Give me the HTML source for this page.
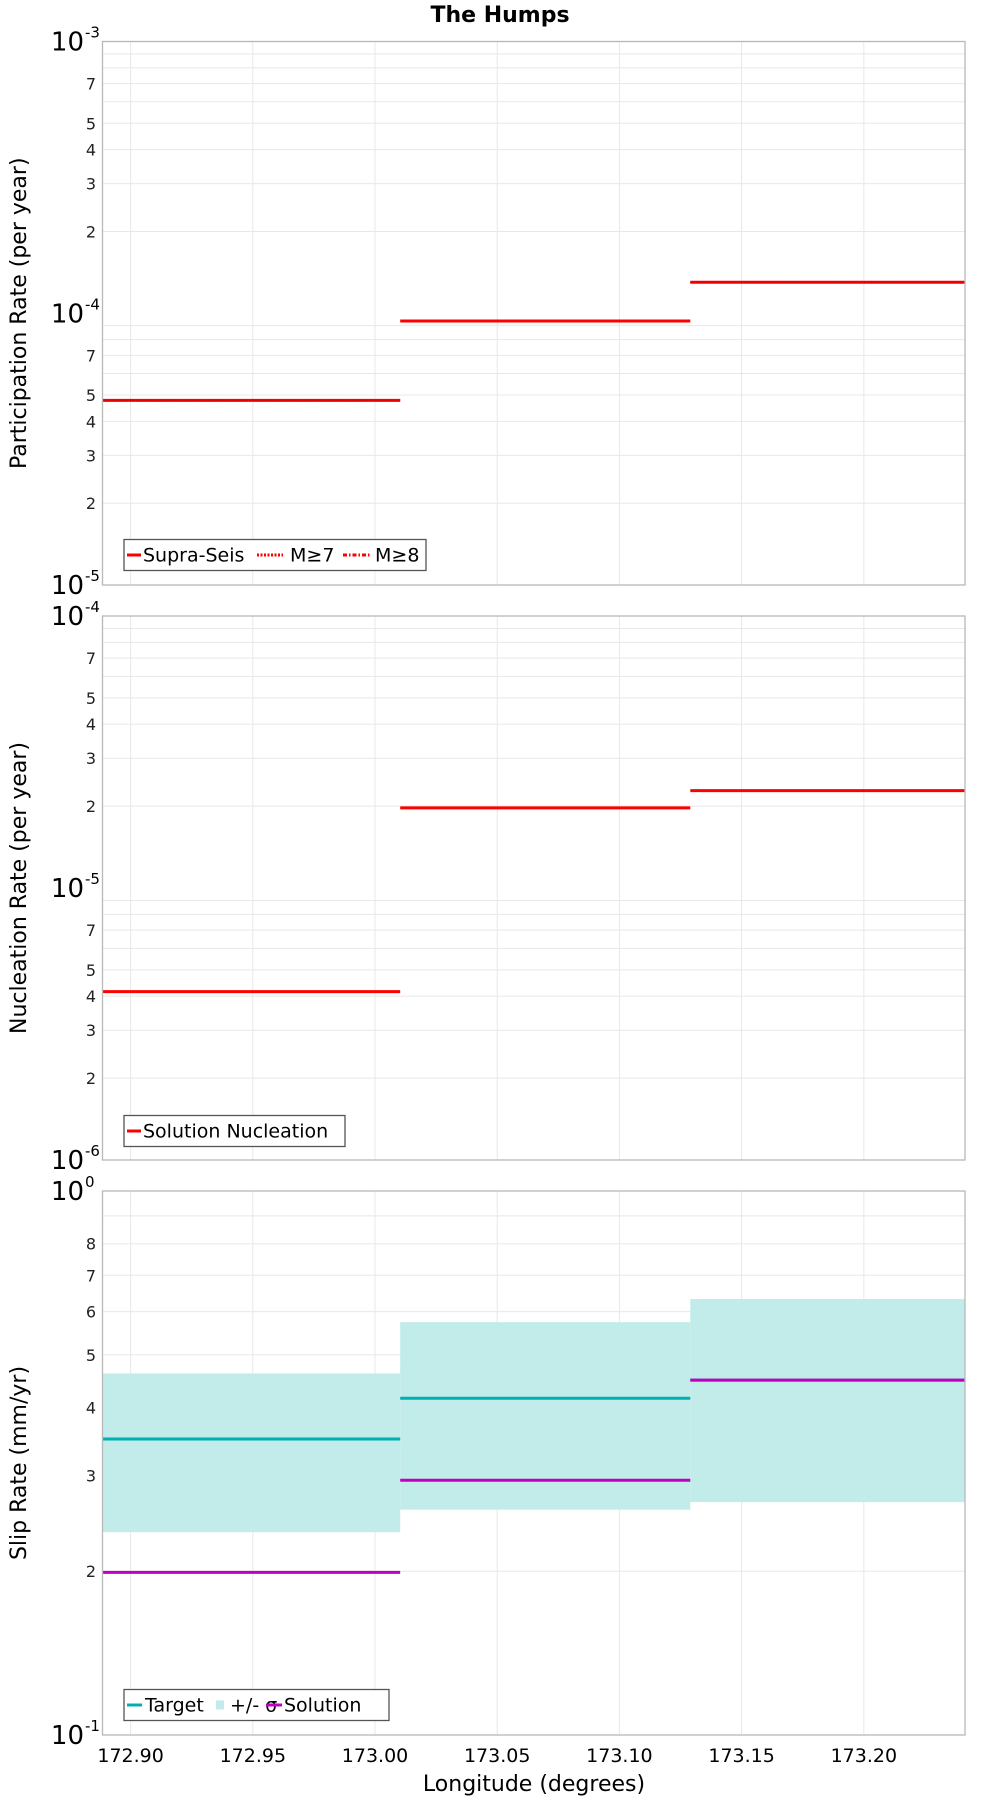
<!DOCTYPE html>
<html><head><meta charset="utf-8"><style>
html,body{margin:0;padding:0;background:#fff;}
svg{display:block;font-family:"DejaVu Sans","Liberation Sans",sans-serif;}
</style></head><body>
<svg id="chart" width="1000" height="1800" viewBox="0 0 1000 1800" xmlns="http://www.w3.org/2000/svg">
<text x="500" y="22" text-anchor="middle" font-size="22" font-weight="bold">The Humps</text>
<text x="534" y="1791" text-anchor="middle" font-size="22">Longitude (degrees)</text>
</svg>
<script>
// data
const segStarts = [172.8885, 173.0103, 173.129];
const segEnds = [173.0103, 173.129, 173.2414];
const participation = [4.78e-5, 9.36e-5, 1.30e-4];
const nucleation = [4.16e-6, 1.97e-5, 2.28e-5];
const slipTarget = [0.350, 0.416, 0.449];
const slipSolution = [0.199, 0.294, 0.449];
const slipUpper = [0.462, 0.574, 0.633];
const slipLower = [0.236, 0.2595, 0.268];
const xTicks = [172.90, 172.95, 173.00, 173.05, 173.10, 173.15, 173.20];
const xTickLabels = ["172.90","172.95","173.00","173.05","173.10","173.15","173.20"];

const NS = "http://www.w3.org/2000/svg";
const svg = document.getElementById('chart');
const L = 102.5, R = 965;
const xMin = 172.8885, xMax = 173.2414;
function xs(v){ return L + (v - xMin) / (xMax - xMin) * (R - L); }
function mk(tag, attrs, parent){
  const e = document.createElementNS(NS, tag);
  for (const k in attrs) e.setAttribute(k, attrs[k]);
  (parent || svg).appendChild(e);
  return e;
}
const panels = [
  {top:41.5, bottom:585, lo:-5, hi:-3, title:"Participation Rate (per year)", name:"participation"},
  {top:616, bottom:1160, lo:-6, hi:-4, title:"Nucleation Rate (per year)", name:"nucleation"},
  {top:1191, bottom:1735, lo:-1, hi:0, title:"Slip Rate (mm/yr)", name:"slip-rate"}
];
function ysFor(p){ return v => p.bottom - (Math.log10(v) - p.lo) / (p.hi - p.lo) * (p.bottom - p.top); }

panels.forEach((p, pi) => {
  const ys = ysFor(p);
  const g = mk('g', {});
  
  
  for (let d = p.lo; d < p.hi; d++) {
    for (let m = 2; m <= 9; m++) {
      const v = m * Math.pow(10, d);
      const y = ys(v);
      const gl = mk('line', {x1:L, x2:R, y1:y, y2:y, stroke:'#e8e8e8', 'stroke-width':1}, g);
      
      
      const showLabel = pi === 2 ? (m <= 8) : (m === 2 || m === 3 || m === 4 || m === 5 || m === 7);
      if (showLabel) {
        const t = mk('text', {x:96, y:y + 6, 'text-anchor':'end', 'font-size':16, fill:'#222'}, g);
        t.textContent = String(m);
        
        
      }
    }
  }
  for (let d = p.lo; d <= p.hi; d++) {
    const y = ys(Math.pow(10, d));
    const t = mk('text', {x:84, y:y + 9, 'text-anchor':'end', 'font-size':26}, g);
    t.textContent = '10';
    
    
    const s = mk('text', {x:85, y:y - 4, 'font-size':15}, g);
    s.textContent = String(d);
    
    
  }
  xTicks.forEach(v => {
    const gl = mk('line', {x1:xs(v), x2:xs(v), y1:p.top, y2:p.bottom, stroke:'#e8e8e8', 'stroke-width':1}, g);
    
    
  });
  const yt = mk('text', {x:0, y:0, 'text-anchor':'middle', 'font-size':22, transform:`translate(26,${(p.top+p.bottom)/2}) rotate(-90)`}, g);
  yt.textContent = p.title;
  
  

  if (pi === 0 || pi === 1) {
    const vals = pi === 0 ? participation : nucleation;
    vals.forEach((v, i) => {
      const ln = mk('line', {x1:xs(segStarts[i]), x2:xs(segEnds[i]), y1:ys(v), y2:ys(v), stroke:'#ff0000', 'stroke-width':3}, g);
      
      
      if (pi === 0 && i !== 1) {
        const dl = mk('line', {x1:xs(segStarts[i]), x2:xs(segEnds[i]), y1:ys(v), y2:ys(v), stroke:'#d00000', 'stroke-width':1.5, 'stroke-dasharray':'1.5 1.5'}, g);
        
        
      }
    });
  } else {
    slipUpper.forEach((v, i) => {
      const r = mk('rect', {x:xs(segStarts[i]), y:ys(v), width:xs(segEnds[i]) - xs(segStarts[i]), height:ys(slipLower[i]) - ys(v), fill:'#c2ecea'}, g);
      
      
    });
    slipTarget.forEach((v, i) => {
      const ln = mk('line', {x1:xs(segStarts[i]), x2:xs(segEnds[i]), y1:ys(v), y2:ys(v), stroke:'#00b0b0', 'stroke-width':3}, g);
      
      
    });
    slipSolution.forEach((v, i) => {
      const ln = mk('line', {x1:xs(segStarts[i]), x2:xs(segEnds[i]), y1:ys(v), y2:ys(v), stroke:'#c000c0', 'stroke-width':3}, g);
      
      
    });
    xTicks.forEach((v, i) => {
      const t = mk('text', {x:xs(v), y:1762, 'text-anchor':'middle', 'font-size':19}, svg);
      t.textContent = xTickLabels[i];
      
      
    });
  }
  const fr = mk('rect', {x:L, y:p.top, width:R-L, height:p.bottom-p.top, fill:'none', stroke:'#b8b8b8', 'stroke-width':1.3}, g);
  
  
});

function legend(y, w, items, name){
  const g = mk('g', {});
  
  
  mk('rect', {x:124, y:y, width:w, height:31, fill:'#fff', stroke:'#555', 'stroke-width':1.3}, g);
  items.forEach(it => {
    if (it.box) mk('rect', {x:it.x, y:y + 11, width:8, height:9, fill:it.color}, g);
    else mk('line', {x1:it.x, x2:it.x + it.len, y1:y + 15.5, y2:y + 15.5, stroke:it.color, 'stroke-width':3, 'stroke-dasharray':it.dash || 'none'}, g);
    const t = mk('text', {x:it.tx, y:y + 22, 'font-size':19}, g);
    t.textContent = it.label;
    
    
  });
}
legend(539.5, 302, [{color:'#ff0000', x:127, len:14, tx:143, label:'Supra-Seis'},{color:'#ff0000', dash:'2 1.5', x:257, len:26, tx:290, label:'M≥7'},{color:'#ff0000', dash:'4 2 1.5 2', x:343, len:27, tx:375, label:'M≥8'}], 'participation-legend');
legend(1115.5, 221, [{color:'#ff0000', x:127, len:14, tx:143, label:'Solution Nucleation'}], 'nucleation-legend');
legend(1689.5, 265, [{color:'#00b0b0', x:127, len:15, tx:145, label:'Target'},{color:'#c2ecea', box:true, x:216, tx:230, label:'+/- σ'},{color:'#c000c0', x:266, len:16, tx:284, label:'Solution'}], 'slip-legend');
</script>
</body></html>
